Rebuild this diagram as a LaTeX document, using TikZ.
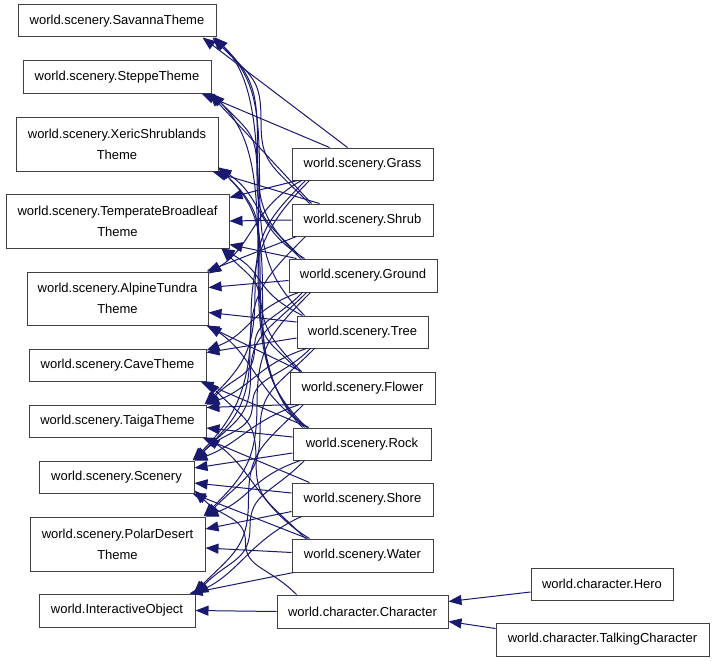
\documentclass[tikz,border=0pt]{standalone}
\usepackage{fontspec}
\setmainfont{Liberation Sans}
\usetikzlibrary{arrows.meta,calc}
\definecolor{edgeblue}{HTML}{191970}
\definecolor{boxgray}{HTML}{404040}
\tikzset{
  cls/.style={draw=boxgray, line width=1pt, rectangle, fill=white, inner sep=0pt,
    align=center, font=\fontsize{13}{21}\selectfont, text=black},
  edge/.style={draw=edgeblue, line width=1pt, -{Triangle[length=13pt,width=10pt]}}
}
% short curved edges
\newcommand\eup[4][50]{\draw[edge] #2 .. controls +(-#1,-#4) and +(45,#4) .. #3;}
\newcommand\edn[4][50]{\draw[edge] #2 .. controls +(-#1,#4) and +(45,-#4) .. #3;}
% straight edges
\newcommand\est[2]{\draw[edge] #1 -- #2;}
% long edges through the vertical channel: #1 corner size, #2 handle, #3 start, #4 end
\newcommand\lup[4]{\path #3 coordinate (s) #4 coordinate (e);
  \draw[edge] (s) .. controls +(-#1,-#1) and +(0,#2) .. ($(s)!0.5!(e)$) .. controls +(0,-#2) and +(#1,#1) .. (e);}
\newcommand\ldn[4]{\path #3 coordinate (s) #4 coordinate (e);
  \draw[edge] (s) .. controls +(-#1,#1) and +(0,-#2) .. ($(s)!0.5!(e)$) .. controls +(0,#2) and +(#1,-#1) .. (e);}
\begin{document}
\begin{tikzpicture}[x=1pt,y=-1pt]
\useasboundingbox[fill=white] (0,0) rectangle (715,661);
% left column
\node[cls, minimum width=198pt, minimum height=32pt] (sav) at (117,21) {world.scenery.SavannaTheme};
\node[cls, minimum width=188pt, minimum height=32pt] (ste) at (117,77) {world.scenery.SteppeTheme};
\node[cls, minimum width=202pt, minimum height=54pt] (xer) at (117,144) {world.scenery.XericShrublands\\Theme};
\node[cls, minimum width=223pt, minimum height=54pt] (tem) at (117.5,221) {world.scenery.TemperateBroadleaf\\Theme};
\node[cls, minimum width=181pt, minimum height=53pt] (alp) at (117.5,298.5) {world.scenery.AlpineTundra\\Theme};
\node[cls, minimum width=177pt, minimum height=32pt] (cav) at (117.5,365) {world.scenery.CaveTheme};
\node[cls, minimum width=177pt, minimum height=32pt] (tai) at (117.5,421) {world.scenery.TaigaTheme};
\node[cls, minimum width=155pt, minimum height=32pt] (sce) at (116.5,477) {world.scenery.Scenery};
\node[cls, minimum width=175pt, minimum height=54pt] (pol) at (117.5,544) {world.scenery.PolarDesert\\Theme};
\node[cls, minimum width=156pt, minimum height=33pt] (io) at (117,610.5) {world.InteractiveObject};
% middle column
\node[cls, minimum width=141pt, minimum height=32pt] (gra) at (362.5,164) {world.scenery.Grass};
\node[cls, minimum width=141pt, minimum height=32pt] (shr) at (362.5,220) {world.scenery.Shrub};
\node[cls, minimum width=148pt, minimum height=33pt] (gro) at (363,275.5) {world.scenery.Ground};
\node[cls, minimum width=131pt, minimum height=32pt] (tre) at (362.5,332) {world.scenery.Tree};
\node[cls, minimum width=145pt, minimum height=32pt] (flo) at (362.5,388) {world.scenery.Flower};
\node[cls, minimum width=138pt, minimum height=32pt] (roc) at (362,444) {world.scenery.Rock};
\node[cls, minimum width=141pt, minimum height=33pt] (sho) at (362.5,499.5) {world.scenery.Shore};
\node[cls, minimum width=141pt, minimum height=33pt] (wat) at (362.5,555.5) {world.scenery.Water};
\node[cls, minimum width=171pt, minimum height=33pt] (cha) at (362.5,611.5) {world.character.Character};
% right column
\node[cls, minimum width=142pt, minimum height=32pt] (her) at (602,584) {world.character.Hero};
\node[cls, minimum width=213pt, minimum height=33pt] (tal) at (602.5,639.5) {world.character.TalkingCharacter};
% Savanna
\est{([xshift=56pt]gra.north west)}{([xshift=-14pt]sav.south east)}
\lup{40}{42}{([xshift=18pt]shr.north west)}{([xshift=-4pt]sav.south east)}
\lup{40}{55}{([xshift=12pt]gro.north west)}{([xshift=-2pt]sav.south east)}
\lup{40}{70}{([xshift=8pt]tre.north west)}{([xshift=-2pt]sav.south east)}
\lup{40}{98}{([xshift=10pt]roc.north west)}{([xshift=-2pt]sav.south east)}
% Steppe
\est{([xshift=38pt]gra.north west)}{([xshift=-10pt]ste.south east)}
\est{([xshift=20pt]shr.north west)}{([xshift=-2pt]ste.south east)}
\lup{40}{42}{([xshift=14pt]gro.north west)}{(ste.south east)}
\lup{40}{84}{([xshift=12pt]roc.north west)}{(ste.south east)}
% Xeric
\est{([xshift=28pt]shr.north west)}{([xshift=-6pt]xer.south east)}
\eup{([xshift=16pt]gro.north west)}{([yshift=4pt]xer.south east)}{30}
\lup{40}{51}{([xshift=12pt]flo.north west)}{([yshift=4pt]xer.south east)}
\lup{40}{65}{([xshift=14pt]roc.north west)}{([yshift=4pt]xer.south east)}
% Temperate
\est{([xshift=6pt]gra.south west)}{([yshift=-4pt]tem.north east)}
\est{(shr.west)}{(tem.east)}
\est{([xshift=8pt]gro.north west)}{([yshift=4pt]tem.south east)}
\eup{([xshift=6pt]tre.north west)}{([xshift=-8pt]tem.south east)}{25}
\lup{30}{31}{([xshift=10pt]flo.north west)}{([xshift=-8pt]tem.south east)}
% Alpine
\edn{([xshift=10pt]gra.south west)}{([yshift=-2pt]alp.north east)}{28}
\est{([xshift=5pt]shr.south west)}{([xshift=-2pt]alp.north east)}
\est{([yshift=-5pt]gro.west)}{([yshift=11pt]alp.east)}
\est{([yshift=10pt]tre.west)}{([yshift=-14pt]alp.east)}
\est{([xshift=12pt]flo.north west)}{([xshift=-2pt]alp.south east)}
\eup{([xshift=16pt]roc.north west)}{(alp.south east)}{30}
% Cave
\edn{([xshift=10pt]gro.south west)}{([yshift=-2pt]cav.north east)}{18}
\est{([yshift=-6pt]tre.west)}{([yshift=-4pt]cav.north east)}
\est{([xshift=16pt]roc.north west)}{([xshift=-6pt]cav.south east)}
\lup{40}{40}{([xshift=14pt]wat.north west)}{(cav.south east)}
% Taiga
\ldn{40}{56}{([xshift=14pt]gra.south west)}{([xshift=-2pt]tai.north east)}
\ldn{30}{28}{([xshift=14pt]gro.south west)}{(tai.north east)}
\edn{([xshift=10pt]tre.south west)}{(tai.north east)}{17}
\est{([xshift=4pt]flo.south west)}{([yshift=-3pt]tai.north east)}
\est{([yshift=7pt]roc.west)}{([yshift=-7pt]tai.east)}
\est{([xshift=18pt]sho.north west)}{([xshift=-4pt]tai.south east)}
\eup{([xshift=18pt]wat.north west)}{(tai.south east)}{30}
% Scenery
\ldn{40}{70}{([xshift=18pt]gra.south west)}{([xshift=-2pt]sce.north east)}
\ldn{40}{56}{([xshift=14pt]shr.south west)}{(sce.north east)}
\ldn{40}{42}{([xshift=18pt]gro.south west)}{(sce.north east)}
\ldn{30}{28}{([xshift=14pt]tre.south west)}{(sce.north east)}
\edn{([xshift=10pt]flo.south west)}{(sce.north east)}{17}
\est{([yshift=-9pt]roc.west)}{([yshift=9pt]sce.east)}
\est{([yshift=6.5pt]sho.west)}{([yshift=-6pt]sce.east)}
\est{([xshift=16pt]wat.north west)}{([xshift=-2pt]sce.south east)}
\lup{28}{26}{([xshift=20pt]cha.north west)}{([yshift=3pt]sce.south east)}
% Polar desert
\ldn{40}{56}{([xshift=22pt]gro.south west)}{([xshift=-2pt]pol.north east)}
\ldn{40}{42}{([xshift=18pt]tre.south west)}{(pol.north east)}
\edn{([xshift=8pt]roc.south west)}{(pol.north east)}{17}
\est{([yshift=-12pt]sho.west)}{([yshift=15pt]pol.east)}
\est{([yshift=3pt]wat.west)}{([yshift=-4pt]pol.east)}
% Interactive object
\ldn{40}{48}{([xshift=14pt]flo.south west)}{([xshift=-2pt]io.north east)}
\ldn{34}{34}{([xshift=12pt]roc.south west)}{(io.north east)}
\edn{([xshift=10pt]sho.south west)}{(io.north east)}{23}
\est{([xshift=2pt]wat.south west)}{([xshift=-6pt]io.north east)}
\est{(cha.west)}{(io.east)}
% Character
\est{([yshift=-8pt]her.west)}{([yshift=10pt]cha.east)}
\est{([yshift=11pt]tal.west)}{([yshift=-10pt]cha.east)}
\end{tikzpicture}
\end{document}
